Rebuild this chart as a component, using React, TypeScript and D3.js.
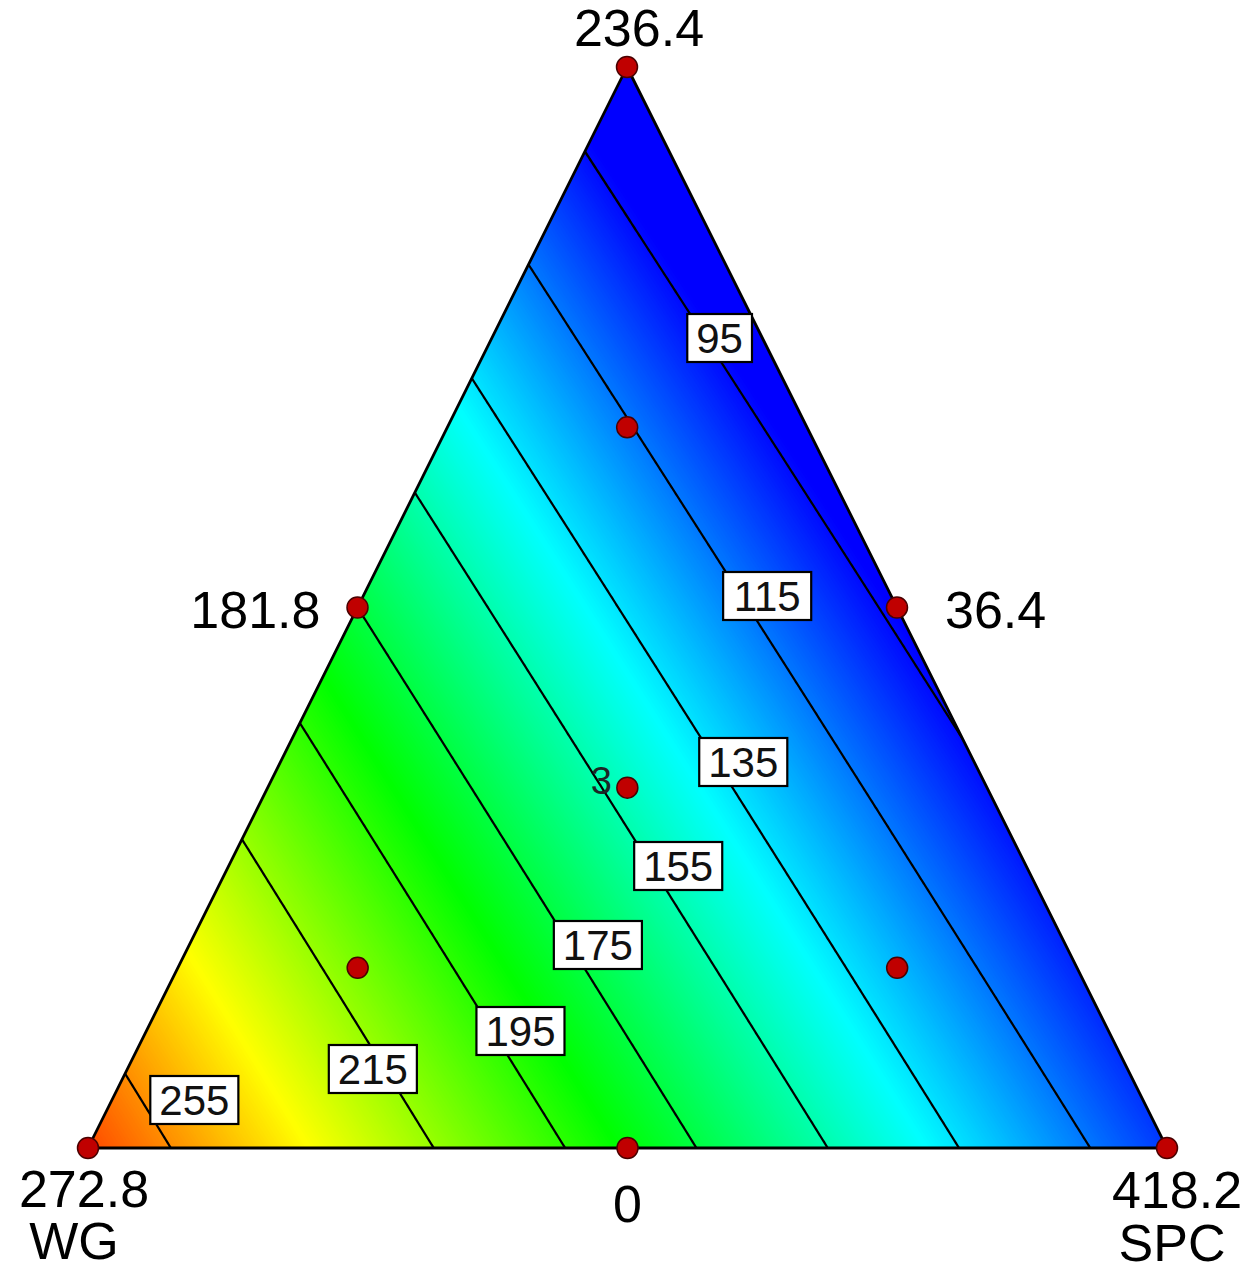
import React, { useMemo } from "react";
import * as d3 from "d3";

// vertex order: top, WG (bottom left), SPC (bottom right)
const vertexLabels = ["236.4", "272.8", "418.2"];
const componentNames = ["", "WG", "SPC"];
// binary edge midpoints: top-WG, top-SPC, WG-SPC
const edgeLabels = ["181.8", "36.4", "0"];

// response at the vertices and edge midpoints
const vertexResponse = [80, 267.6, 103.3];
const edgeResponse = [175, 92.2, 185.5];

const contourLevels = [95, 115, 135, 155, 175, 195, 215, 255];

// design points as (top, WG, SPC) fractions
const designPoints = [
  [1, 0, 0], [0, 1, 0], [0, 0, 1],
  [0.5, 0.5, 0], [0.5, 0, 0.5], [0, 0.5, 0.5],
  [1 / 3, 1 / 3, 1 / 3],
  [2 / 3, 1 / 6, 1 / 6], [1 / 6, 2 / 3, 1 / 6], [1 / 6, 1 / 6, 2 / 3],
];
const centroidReplicates = "3";

const colorStops = [93, 140, 187, 234, 281];
const colorRange = ["#0000ff", "#00ffff", "#00ff00", "#ffff00", "#ff0000"];

// where each contour label sits: row y and shift from the line
const labelLayout = [
  { level: 95, y: 338, dx: 14 },
  { level: 115, y: 596, dx: 26 },
  { level: 135, y: 762, dx: 27 },
  { level: 155, y: 866, dx: 27 },
  { level: 175, y: 945, dx: 28 },
  { level: 195, y: 1031, dx: 28 },
  { level: 215, y: 1069, dx: -12 },
  { level: 255, y: 1100, dx: 53 },
];

const W = 1249;
const H = 1276;
const P = [
  [627, 67],
  [88, 1148],
  [1167, 1148],
];
const FONT = '"Liberation Sans", Arial, Helvetica, sans-serif';

// quadratic Scheffe model through vertex / midpoint responses
const [b1, b2, b3] = vertexResponse;
const b12 = 4 * edgeResponse[0] - 2 * b1 - 2 * b2;
const b13 = 4 * edgeResponse[1] - 2 * b1 - 2 * b3;
const b23 = 4 * edgeResponse[2] - 2 * b2 - 2 * b3;
const model = (w: number[]) =>
  b1 * w[0] + b2 * w[1] + b3 * w[2] + b12 * w[0] * w[1] + b13 * w[0] * w[2] + b23 * w[1] * w[2];

const det = (P[1][1] - P[2][1]) * (P[0][0] - P[2][0]) + (P[2][0] - P[1][0]) * (P[0][1] - P[2][1]);
function bary(x: number, y: number) {
  const a = ((P[1][1] - P[2][1]) * (x - P[2][0]) + (P[2][0] - P[1][0]) * (y - P[2][1])) / det;
  const b = ((P[2][1] - P[0][1]) * (x - P[2][0]) + (P[0][0] - P[2][0]) * (y - P[2][1])) / det;
  return [a, b, 1 - a - b];
}
const toXY = (w: number[]) => [
  w[0] * P[0][0] + w[1] * P[1][0] + w[2] * P[2][0],
  w[0] * P[0][1] + w[1] * P[1][1] + w[2] * P[2][1],
];
const valueAt = (x: number, y: number) => model(bary(x, y));

// x on row y where the surface equals level (surface falls to the right)
function solveX(level: number, y: number) {
  const t = (y - P[0][1]) / (P[1][1] - P[0][1]);
  let lo = P[0][0] + (P[1][0] - P[0][0]) * t;
  let hi = P[0][0] + (P[2][0] - P[0][0]) * t;
  for (let i = 0; i < 50; i++) {
    const mid = (lo + hi) / 2;
    if (valueAt(mid, y) > level) lo = mid;
    else hi = mid;
  }
  return (lo + hi) / 2;
}

export default function App() {
  const color = d3
    .scaleLinear<string>()
    .domain(colorStops)
    .range(colorRange)
    .interpolate(d3.interpolateRgb)
    .clamp(true);

  const { bands, lines } = useMemo(() => {
    const x0 = 60, y0 = 40, cell = 4;
    const nx = Math.ceil((1200 - x0) / cell);
    const ny = Math.ceil((1180 - y0) / cell);
    const values = new Array(nx * ny);
    for (let j = 0; j < ny; j++)
      for (let i = 0; i < nx; i++) values[j * nx + i] = valueAt(x0 + i * cell, y0 + j * cell);
    const proj = d3.geoIdentity().scale(cell).translate([x0 - 0.5 * cell, y0 - 0.5 * cell]);
    const path = d3.geoPath(proj as any);
    const step = 0.5;
    const fillThresholds = d3.range(76, 275, step);
    const bands = d3
      .contours()
      .size([nx, ny])
      .thresholds(fillThresholds)(values)
      .map((c) => ({ d: path(c as any) || "", fill: color(c.value + step / 2) }));
    const lines = d3
      .contours()
      .size([nx, ny])
      .thresholds(contourLevels)(values)
      .map((c) => ({ d: path(c as any) || "", value: c.value }));
    return { bands, lines };
  }, []);

  const triPath = d3.line()(P as [number, number][]) + "Z";
  const [A, B, C] = P;
  const mid = (p: number[], q: number[]) => [(p[0] + q[0]) / 2, (p[1] + q[1]) / 2];
  const mAB = mid(A, B), mAC = mid(A, C), mBC = mid(B, C);
  const centroid = toXY([1 / 3, 1 / 3, 1 / 3]);

  const labelFont = 42;
  const bigFont = 52;

  return (
    <svg
      width={W}
      height={H}
      style={{ position: "absolute", left: 0, top: 0, background: "#fff" }}
      fontFamily={FONT}
    >
      <defs>
        <clipPath id="tri">
          <path d={triPath} />
        </clipPath>
      </defs>
      <g clipPath="url(#tri)">
        {bands.map((b, i) => (
          <path key={i} d={b.d} fill={b.fill} stroke="none" />
        ))}
        {lines.map((l, i) => (
          <path key={"l" + i} d={l.d} fill="none" stroke="#000" strokeWidth={2.3} />
        ))}
      </g>
      <path d={triPath} fill="none" stroke="#000" strokeWidth={2.8} />

      {labelLayout.map((lab) => {
        const cx = solveX(lab.level, lab.y) + lab.dx;
        const txt = String(lab.level);
        const w = txt.length * 0.556 * labelFont + 18;
        const h = 48;
        return (
          <g key={lab.level}>
            <rect x={cx - w / 2} y={lab.y - h / 2} width={w} height={h} fill="#fff" stroke="#000" strokeWidth={2.2} />
            <text x={cx} y={lab.y + 15} textAnchor="middle" fontSize={labelFont} fill="#111">
              {txt}
            </text>
          </g>
        );
      })}

      <text x={centroid[0] - 26} y={centroid[1] + 6} textAnchor="middle" fontSize={38} fill="#1c2626">
        {centroidReplicates}
      </text>

      {designPoints.map((w, i) => {
        const [x, y] = toXY(w);
        return <circle key={i} cx={x} cy={y} r={10.5} fill="#c00000" stroke="#4a0000" strokeWidth={1.5} />;
      })}

      <g fontSize={bigFont} fill="#000">
        <text x={A[0] + 12} y={A[1] - 21} textAnchor="middle">{vertexLabels[0]}</text>
        <text x={B[0] - 4} y={B[1] + 59} textAnchor="middle">{vertexLabels[1]}</text>
        <text x={B[0] - 14} y={B[1] + 111} textAnchor="middle">{componentNames[1]}</text>
        <text x={C[0] + 10} y={C[1] + 60} textAnchor="middle">{vertexLabels[2]}</text>
        <text x={C[0] + 5} y={C[1] + 113} textAnchor="middle">{componentNames[2]}</text>
        <text x={mAB[0] - 37} y={mAB[1] + 20} textAnchor="end">{edgeLabels[0]}</text>
        <text x={mAC[0] + 48} y={mAC[1] + 20} textAnchor="start">{edgeLabels[1]}</text>
        <text x={mBC[0]} y={mBC[1] + 74} textAnchor="middle">{edgeLabels[2]}</text>
      </g>
    </svg>
  );
}
